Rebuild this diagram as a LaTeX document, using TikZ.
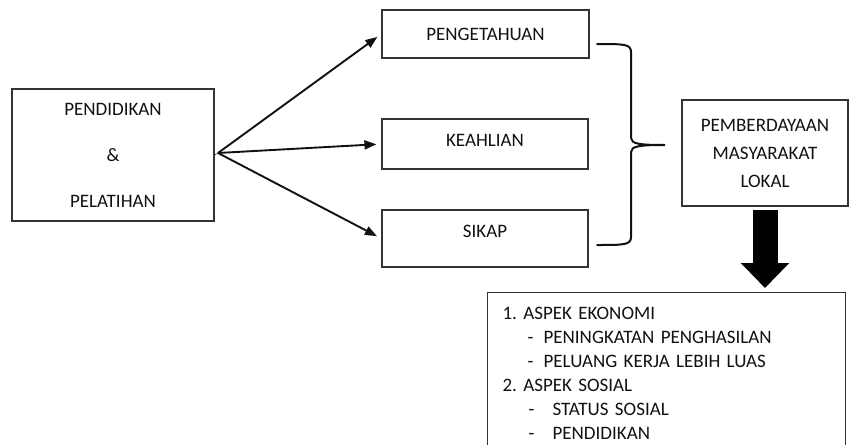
\documentclass[tikz,border=0pt]{standalone}
\usepackage{fontspec}
\setmainfont{Carlito}
\frenchspacing
\usetikzlibrary{arrows.meta,positioning}
\definecolor{boxline}{HTML}{333333}
\definecolor{inkdark}{HTML}{111111}
\tikzset{
  box/.style={draw=boxline, line width=1.2pt, inner sep=0pt,
    font=\fontsize{19}{24}\selectfont, text=inkdark, align=center},
  flow/.style={-{Triangle[length=12pt,width=9pt]}, line width=1.9pt,
    color=inkdark, shorten >=5pt},
  bigflow/.style={-{Triangle[length=25pt,width=47pt]}, line width=25pt, color=black},
  % the curly bracket that gathers the three outcomes
  bracket/.style={line width=2pt, line cap=round, color=inkdark},
}
\begin{document}
\begin{tikzpicture}[x=1pt,y=-1pt]
  \useasboundingbox (0,0) rectangle (850,444);

  \node[box, minimum width=202pt, minimum height=132pt,
        font=\fontsize{19}{46}\selectfont] (pend) at (113,155)
    {PENDIDIKAN\\\&\\PELATIHAN};
  \coordinate (fork) at (218,153);

  \node[box, minimum width=207pt, minimum height=48pt] (peng) at (485.5,34) {PENGETAHUAN};
  \node[box, minimum width=206pt, minimum height=50pt, text depth=8pt] (keah) at (485,144) {KEAHLIAN};
  \node[box, minimum width=206pt, minimum height=57pt, text depth=15pt] (sikap) at (485,238.5) {SIKAP};

  \draw (pend.east) -- (fork);
  \foreach \t in {peng,keah,sikap}
    \draw[flow] (fork) -- (\t.west);

  \draw[bracket] (597,44) .. controls (624,44) and (631,44) .. (631,52) -- (631,138)
    .. controls (631,144) and (640,145) .. (665,145)
    .. controls (640,145) and (631,146) .. (631,152) -- (631,237)
    .. controls (631,245) and (624,245) .. (597,245);

  \node[box, minimum width=166pt, minimum height=106pt,
        font=\fontsize{19}{28}\selectfont] (pemb) at (765,153)
    {PEMBERDAYAAN\\MASYARAKAT\\LOKAL};

  \node[box, anchor=north west, align=left, inner sep=15pt, text width=328pt] (aspek) at (487,292) {%
    1. ASPEK EKONOMI\\
    \hspace*{25pt}\makebox[16pt][l]{-}PENINGKATAN PENGHASILAN\\
    \hspace*{25pt}\makebox[16pt][l]{-}PELUANG KERJA LEBIH LUAS\\
    2. ASPEK SOSIAL\\
    \hspace*{26pt}\makebox[24pt][l]{-}STATUS SOSIAL\\
    \hspace*{26pt}\makebox[24pt][l]{-}PENDIDIKAN};

  \draw[bigflow] ([yshift=-3pt]pemb.south) -- ([yshift=4pt]aspek.north -| pemb.south);
\end{tikzpicture}
\end{document}
